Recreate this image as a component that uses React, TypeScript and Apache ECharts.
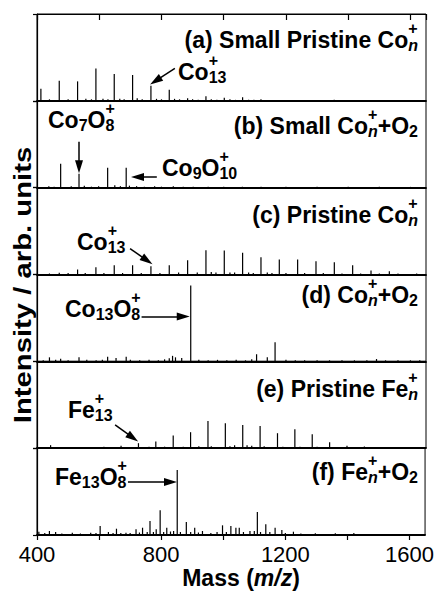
import React, { useEffect, useRef } from 'react';
import * as echarts from 'echarts';

// ---------------- data ----------------
const X_MIN = 400;
const X_MAX = 1650;
const X_STEP = 200;
const xTickLabels = [400, 800, 1200, 1600];
const Y_MAX = 87;

// (a) Small Pristine Co_n+
const massA = [412.5, 471.5, 530.4, 589.3, 648.2, 707.2, 766.1, 825.0, 884.0, 942.9, 1001.8, 1060.7, 1119.7];
const intA = [12, 20, 19.5, 32.5, 27, 26, 15, 11, 2.5, 4.5, 3, 3.5, 1.5];
const noiseMassA = [440, 500, 557, 575, 612, 628, 666, 680, 722, 738, 784, 800, 842, 858, 900, 918, 960, 978, 1020, 1038, 1080, 1097, 1355];
const noiseIntA = [1.5, 1.5, 2, 1.5, 2, 1.5, 2, 1.5, 2.5, 1.5, 2, 1.5, 2, 1.5, 1.5, 1, 1.5, 1, 1.5, 1, 1, 1, 1];

// (b) Small Co_n+ + O2
const massB = [476, 535, 627, 686.6];
const intB = [24, 14, 20, 20];
const noiseMassB = [438, 455, 510, 552, 575, 598, 650, 668, 697, 720, 745, 778, 800, 838, 870, 902, 950, 1000, 1060, 1120, 1200, 1300, 1400, 1500, 1600];
const noiseIntB = [1.5, 1, 1.5, 2, 1, 1.5, 2.5, 1.5, 2, 1.5, 1, 1.5, 1, 1.5, 1, 1, 1, 1, 1, 1, 0.8, 0.8, 0.8, 0.8, 0.8];

// (c) Pristine Co_n+
const massC = [471.5, 530.4, 589.3, 648.2, 707.2, 766.1, 825.0, 884.0, 942.9, 1001.8, 1060.7, 1119.7, 1178.6, 1237.5, 1296.5, 1355.4, 1414.3, 1473.3, 1532.2];
const intC = [1.7, 5, 7.3, 9.3, 9.3, 8.3, 9.3, 14.3, 24.3, 24, 21.7, 17.3, 15, 15, 13.3, 12.3, 9.3, 4, 3.3];
const noiseMassC = [440, 500, 555, 615, 675, 735, 795, 855, 915, 960, 975, 1020, 1035, 1080, 1095, 1140, 1155, 1200, 1260, 1320, 1380, 1440, 1500, 1560, 1620];
const noiseIntC = [1, 1.5, 1.5, 1.5, 1.5, 1.5, 1.5, 2, 2, 2.5, 2, 2, 2, 2, 1.5, 2, 1.5, 1.5, 1.5, 1.5, 1, 1, 1, 1, 1];

// (d) Co_n+ + O2
const massD = [440, 476, 535, 627, 654, 686.6, 825, 835.6, 845, 865, 894, 1105.6, 1140, 1165, 1491];
const intD = [4, 2.5, 4, 4.5, 3.3, 4.5, 3, 5.5, 4, 3.3, 76, 7, 4, 19, 2.3];
const noiseMassD = [420, 460, 500, 560, 590, 610, 700, 730, 760, 790, 810, 920, 950, 980, 1010, 1040, 1070, 1090, 1200, 1230, 1260, 1300, 1340, 1380, 1420, 1460, 1520, 1560, 1600, 1630];
const noiseIntD = [1, 1.5, 1, 1.5, 1, 1.5, 1.5, 1, 1.5, 1, 2, 1.5, 1, 1.5, 1, 1.5, 1, 2, 1.5, 1, 1, 1, 1, 1, 1, 1, 1, 1, 1, 1];

// (e) Pristine Fe_n+
const massE = [443.7, 670.1, 726.0, 781.8, 837.7, 893.5, 949.4, 1005.2, 1061.1, 1116.9, 1172.8, 1228.6, 1284.4, 1340.3, 1396.1, 1452.0, 1507.8];
const intE = [3, 2.3, 5, 6.7, 12.7, 16, 27.3, 25, 23.3, 22.3, 15, 19, 14, 6, 2.3, 1.7, 1];
const noiseMassE = [500, 560, 615, 760, 810, 870, 920, 960, 1020, 1035, 1075, 1090, 1130, 1190, 1245, 1300, 1360, 1480, 1560, 1620];
const noiseIntE = [1, 1, 1.5, 1.5, 1.5, 1.5, 2, 2, 2, 3, 3, 2.5, 2, 1.5, 1.5, 1.5, 1, 1, 1, 1];

// (f) Fe_n+ + O2
const massF = [406, 440, 460, 513.7, 573, 603.4, 630, 656, 686.6, 719, 740, 764, 784, 796.7, 818, 840, 851.7, 881, 908, 933, 997.6, 1024.5, 1040.7, 1051.5, 1086, 1109.8, 1137, 1167, 1188.7, 1226, 1296.6, 1361, 1420.6];
const intF = [3.3, 4, 3, 2.3, 2.3, 9, 3, 6.3, 2.3, 5.7, 7.3, 14, 5.7, 24.7, 7.3, 4, 65, 13, 7.3, 4, 9.7, 9, 7.3, 7.3, 4, 23, 10.7, 7.3, 5, 3.3, 1.7, 1.7, 2];
const noiseMassF = [425, 480, 540, 590, 645, 670, 700, 730, 755, 775, 808, 830, 862, 895, 920, 960, 980, 1010, 1065, 1100, 1120, 1150, 1200, 1250, 1320, 1390, 1450, 1500, 1560, 1610];
const noiseIntF = [2, 1.5, 1.5, 2, 2, 2, 2, 2.5, 3, 3, 3, 3.5, 3, 3, 2.5, 2, 3, 3, 3, 4, 3, 3, 2, 1.5, 1, 1, 1, 1, 1, 1];

const panelMass = [massA, massB, massC, massD, massE, massF];
const panelInt = [intA, intB, intC, intD, intE, intF];
const panelNoiseMass = [noiseMassA, noiseMassB, noiseMassC, noiseMassD, noiseMassE, noiseMassF];
const panelNoiseInt = [noiseIntA, noiseIntB, noiseIntC, noiseIntD, noiseIntE, noiseIntF];

// arrows in data coordinates [mass, intensity] -> [mass, intensity]
const arrowsPerPanel: number[][][][] = [
  [[[843, 32.5], [781, 20]]],
  [[[535, 46], [535, 21]], [[785, 10.7], [723, 10.7]]],
  [[[699, 26], [754, 14]]],
  [[[736, 45], [870, 45]]],
  [[[651, 23.3], [708, 10.5]]],
  [[[693, 53], [830, 53]]],
];

// ---------------- layout / style ----------------
const W = 437;
const H = 594;
const LEFT = 37;
const RIGHT = 11;
const TOP = 14;
const BOTTOM_Y = 535;
const PH = (BOTTOM_Y - TOP) / 6;
const FONT = '"Liberation Sans", Arial, Helvetica, sans-serif';
const FS = 23;

type Piece = { t?: string; it?: boolean; sub?: string; sup?: string; subIt?: boolean };

let measureCtx: CanvasRenderingContext2D | null = null;
function tw(text: string, size: number, italic = false, bold = true) {
  if (!measureCtx) measureCtx = document.createElement('canvas').getContext('2d');
  measureCtx!.font = `${italic ? 'italic ' : ''}${bold ? 'bold ' : ''}${size}px "Liberation Sans"`;
  return measureCtx!.measureText(text).width;
}

function mkText(text: string, x: number, y: number, fs: number, italic: boolean) {
  return {
    type: 'text',
    x,
    y,
    silent: true,
    z: 100,
    style: {
      text,
      fill: '#000',
      fontSize: fs,
      fontWeight: 'bold',
      fontStyle: italic ? 'italic' : 'normal',
      fontFamily: FONT,
      align: 'left',
      verticalAlign: 'middle',
      textAlign: 'left',
      textVerticalAlign: 'middle',
    },
  };
}

function formula(pieces: Piece[], x: number, base: number, align: 'left' | 'right' | 'center', size = FS) {
  const small = Math.round(size * 0.69);
  const widths = pieces.map((p) =>
    p.t !== undefined
      ? tw(p.t, size, !!p.it)
      : Math.max(p.sup ? tw(p.sup, small) : 0, p.sub ? tw(p.sub, small, !!p.subIt) : 0)
  );
  const total = widths.reduce((a, b) => a + b, 0);
  let cx = align === 'right' ? x - total : align === 'center' ? x - total / 2 : x;
  const els: any[] = [];
  pieces.forEach((p, i) => {
    if (p.t !== undefined) {
      els.push(mkText(p.t, cx, base - 0.35 * size, size, !!p.it));
    } else {
      if (p.sup) els.push(mkText(p.sup, cx, base - 0.85 * size, small, false));
      if (p.sub) els.push(mkText(p.sub, cx, base + 3 - 0.35 * small, small, !!p.subIt));
    }
    cx += widths[i];
  });
  return els;
}

const stackN: Piece = { sup: '+', sub: 'n', subIt: true };

export default function App() {
  const ref = useRef<HTMLDivElement>(null);
  useEffect(() => {
    const chart = echarts.init(ref.current!, null, { renderer: 'svg' });

    const grids = [0, 1, 2, 3, 4, 5].map((i) => ({
      left: LEFT,
      right: RIGHT,
      top: TOP + i * PH,
      height: PH,
      show: true,
      borderColor: '#000',
      borderWidth: 1,
      backgroundColor: 'transparent',
    }));

    const xAxes: any[] = [0, 1, 2, 3, 4, 5].map((i) => ({
      type: 'value',
      gridIndex: i,
      min: X_MIN,
      max: X_MAX,
      interval: X_STEP,
      axisLine: { show: true, onZero: false, lineStyle: { color: '#000', width: 1.8 } },
      axisTick: { show: i === 5, length: 5, lineStyle: { color: '#000', width: 1.2 } },
      axisLabel: {
        show: i === 5,
        margin: 8,
        color: '#000',
        fontSize: 22,
        fontFamily: FONT,
        showMaxLabel: false,
        formatter: (v: number) => (xTickLabels.indexOf(v) >= 0 ? String(v) : ''),
      },
      splitLine: { show: false },
    }));
    xAxes.push({
      type: 'value',
      gridIndex: 0,
      position: 'top',
      min: X_MIN,
      max: X_MAX,
      interval: X_STEP,
      axisLine: { show: true, onZero: false, lineStyle: { color: '#000', width: 1.2 } },
      axisTick: { show: true, inside: true, length: 6, lineStyle: { color: '#000', width: 1.2 } },
      axisLabel: { show: false },
      splitLine: { show: false },
    });

    const yAxes = [0, 1, 2, 3, 4, 5].map((i) => ({
      type: 'value',
      gridIndex: i,
      min: 0,
      max: Y_MAX,
      interval: Y_MAX,
      axisLine: { show: true, lineStyle: { color: '#000', width: 1.2 } },
      axisTick: { show: true, length: 4, lineStyle: { color: '#000', width: 1.2 } },
      axisLabel: { show: false },
      splitLine: { show: false },
    }));

    const series = [0, 1, 2, 3, 4, 5].map((i) => {
      const data: number[][] = [];
      panelNoiseMass[i].forEach((m, j) => data.push([m, panelNoiseInt[i][j]]));
      panelMass[i].forEach((m, j) => data.push([m, panelInt[i][j]]));
      return {
        type: 'bar',
        xAxisIndex: i,
        yAxisIndex: i,
        barWidth: 1.2,
        itemStyle: { color: '#000' },
        data,
        markLine: {
          silent: true,
          symbol: ['none', 'triangle'],
          symbolSize: 10,
          lineStyle: { color: '#000', width: 1.5, type: 'solid' },
          label: { show: false },
          emphasis: { disabled: true },
          data: arrowsPerPanel[i].map((a) => [{ coord: a[0] }, { coord: a[1], symbolSize: [8, 13] }]),
        },
      };
    });

    const RX = 418;
    const graphics: any[] = [
      ...formula([{ t: '(a) Small Pristine Co' }, stackN], RX, 48, 'right'),
      ...formula([{ t: '(b) Small Co' }, stackN, { t: '+O' }, { sub: '2' }], RX, 134, 'right'),
      ...formula([{ t: '(c) Pristine Co' }, stackN], RX, 223, 'right'),
      ...formula([{ t: '(d) Co' }, stackN, { t: '+O' }, { sub: '2' }], RX, 303, 'right'),
      ...formula([{ t: '(e) Pristine Fe' }, stackN], RX, 397, 'right'),
      ...formula([{ t: '(f) Fe' }, stackN, { t: '+O' }, { sub: '2' }], RX, 480, 'right'),
      ...formula([{ t: 'Co' }, { sup: '+', sub: '13' }], 178, 80, 'left'),
      ...formula([{ t: 'Co' }, { sub: '7' }, { t: 'O' }, { sup: '+', sub: '8' }], 48, 128, 'left'),
      ...formula([{ t: 'Co' }, { sub: '9' }, { t: 'O' }, { sup: '+', sub: '10' }], 162, 176, 'left'),
      ...formula([{ t: 'Co' }, { sup: '+', sub: '13' }], 77, 250, 'left'),
      ...formula([{ t: 'Co' }, { sub: '13' }, { t: 'O' }, { sup: '+', sub: '8' }], 65, 317, 'left'),
      ...formula([{ t: 'Fe' }, { sup: '+', sub: '13' }], 68, 418, 'left'),
      ...formula([{ t: 'Fe' }, { sub: '13' }, { t: 'O' }, { sup: '+', sub: '8' }], 55, 485, 'left'),
      ...formula([{ t: 'Mass (' }, { t: 'm/z', it: true }, { t: ')' }], 241, 586, 'center'),
      {
        type: 'text',
        x: 23,
        y: 285,
        rotation: Math.PI / 2,
        scaleX: 1.33,
        scaleY: 1.05,
        silent: true,
        style: {
          text: 'Intensity / arb. units',
          fill: '#000',
          fontSize: 22,
          fontWeight: 'bold',
          fontFamily: FONT,
          align: 'center',
          verticalAlign: 'middle',
          textAlign: 'center',
          textVerticalAlign: 'middle',
        },
      },
    ];

    chart.setOption({
      animation: false,
      backgroundColor: '#fff',
      grid: grids,
      xAxis: xAxes,
      yAxis: yAxes,
      series,
      graphic: graphics,
    });
    return () => chart.dispose();
  }, []);
  return <div ref={ref} style={{ position: 'absolute', left: 0, top: 0, width: W, height: H }} />;
}
